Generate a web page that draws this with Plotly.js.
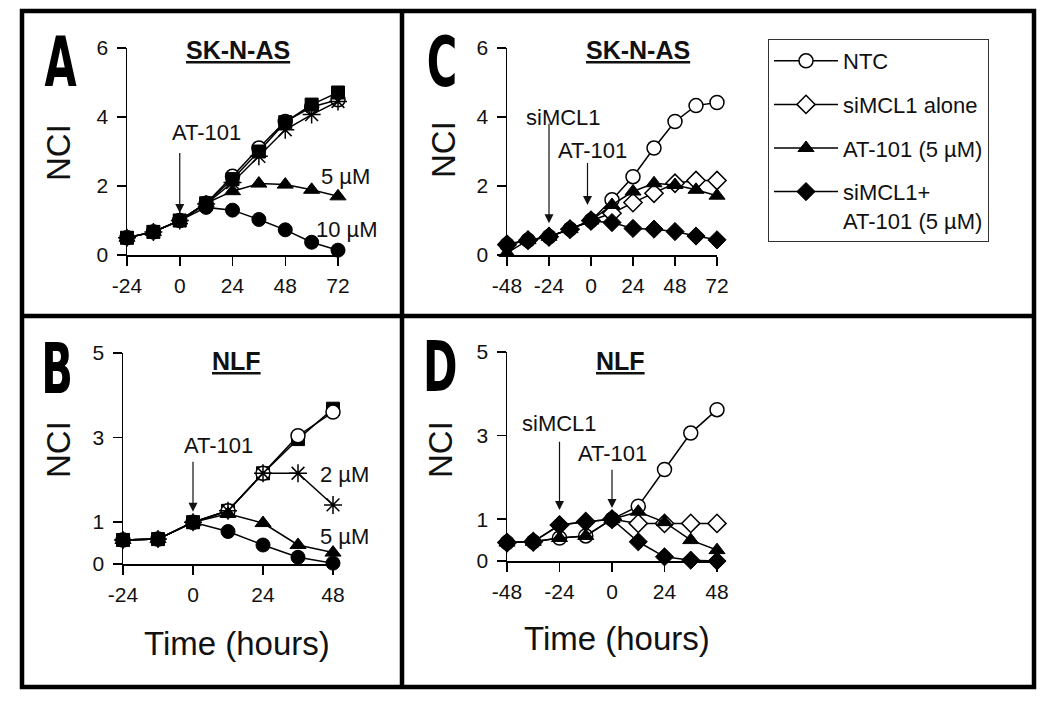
<!DOCTYPE html>
<html>
<head>
<meta charset="utf-8">
<script src="https://cdn.plot.ly/plotly-3.0.1.min.js"></script>
<style>
  html, body { margin: 0; padding: 0; background: #fff; }
  #chart { width: 1050px; height: 709px; }
  .annotation[data-index="0"] .annotation-text,
  .annotation[data-index="1"] .annotation-text,
  .annotation[data-index="2"] .annotation-text,
  .annotation[data-index="3"] .annotation-text {
    transform-box: fill-box; transform-origin: center; transform: scaleX(0.66);
  }
</style>
</head>
<body>
<div id="chart"></div>
<script>
// ---------- Panel A : SK-N-AS, AT-101 doses ----------
const hoursA = [-24, -12, 0, 12, 24, 36, 48, 60, 72];
const A_control = [0.50, 0.67, 1.00, 1.50, 2.28, 3.10, 3.87, 4.29, 4.50];
const A_square  = [0.50, 0.67, 1.00, 1.50, 2.20, 3.00, 3.85, 4.36, 4.71];
const A_star    = [0.50, 0.67, 1.00, 1.48, 2.10, 2.86, 3.63, 4.07, 4.45];
const A_5uM     = [0.50, 0.67, 1.00, 1.50, 1.85, 2.07, 2.04, 1.89, 1.70];
const A_10uM    = [0.50, 0.67, 1.00, 1.38, 1.30, 1.03, 0.73, 0.37, 0.14];
const A_xticks = [-24, 0, 24, 48, 72];
const A_xtickText = ['-24', '0', '24', '48', '72'];
const A_yticks = [0, 2, 4, 6];

// ---------- Panel B : NLF, AT-101 doses ----------
const hoursB = [-24, -12, 0, 12, 24, 36, 48];
const B_control = [0.57, 0.59, 0.99, 1.26, 2.15, 3.04, 3.60];
const B_controlErr = [0, 0, 0, 0, 0, 0, 0.16];
const B_square  = [0.57, 0.59, 0.99, 1.26, 2.15, 2.96, 3.68];
const B_2uM     = [0.57, 0.59, 0.99, 1.26, 2.15, 2.15, 1.40];
const B_5uM     = [0.57, 0.59, 0.99, 1.19, 0.97, 0.45, 0.27];
const B_10uM    = [0.57, 0.59, 0.99, 0.77, 0.45, 0.16, 0.02];
const B_xticks = [-24, 0, 24, 48];
const B_xtickText = ['-24', '0', '24', '48'];
const B_yticks = [0, 1, 3, 5];

// ---------- Panel C : SK-N-AS, siMCL1 +/- AT-101 ----------
const hoursC = [-48, -36, -24, -12, 0, 12, 24, 36, 48, 60, 72];
const C_NTC     = [0.30, 0.43, 0.53, 0.75, 1.00, 1.60, 2.27, 3.10, 3.87, 4.33, 4.42];
const C_siMCL1  = [0.30, 0.43, 0.53, 0.75, 1.00, 1.21, 1.52, 1.79, 2.08, 2.16, 2.16];
const C_AT101   = [0.06, 0.43, 0.53, 0.75, 1.00, 1.45, 1.84, 2.08, 2.03, 1.89, 1.72];
const C_combo   = [0.32, 0.43, 0.53, 0.75, 0.98, 0.94, 0.77, 0.75, 0.68, 0.55, 0.44];
const C_xticks = [-48, -24, 0, 24, 48, 72];
const C_xtickText = ['-48', '-24', '0', '24', '48', '72'];

// ---------- Panel D : NLF, siMCL1 +/- AT-101 ----------
const hoursD = [-48, -36, -24, -12, 0, 12, 24, 36, 48];
const D_NTC     = [0.44, 0.46, 0.55, 0.60, 1.00, 1.31, 2.19, 3.06, 3.62];
const D_siMCL1  = [0.44, 0.46, 0.86, 0.94, 1.00, 0.90, 0.90, 0.90, 0.90];
const D_AT101   = [0.44, 0.46, 0.55, 0.60, 1.00, 1.18, 0.93, 0.50, 0.26];
const D_combo   = [0.44, 0.46, 0.86, 0.94, 1.00, 0.46, 0.10, 0.02, 0.00];
const D_xticks = [-48, -24, 0, 24, 48];
const D_xtickText = ['-48', '-24', '0', '24', '48'];

const legendNames = ['NTC', 'siMCL1 alone', 'AT-101 (5 µM)', 'siMCL1+<br>AT-101 (5 µM)'];

// ---------- styles ----------
const FONT = 'Liberation Sans, Arial, Helvetica, sans-serif';
const LW = 1.5;
const sty = {
  openCircle: {symbol: 'circle', size: 14, color: 'white', line: {color: 'black', width: LW}},
  fillCircle: {symbol: 'circle', size: 14, color: 'black', line: {color: 'black', width: 1}},
  square: {symbol: 'square', size: 13, color: 'black', line: {color: 'black', width: 1}},
  star: {symbol: 'asterisk-open', size: 15, color: 'black', line: {color: 'black', width: LW}},
  tri: {symbol: 'triangle-up', size: 14, color: 'black', line: {color: 'black', width: 1}},
  openDiamond: {symbol: 'diamond', size: 14, color: 'white', line: {color: 'black', width: LW}},
  fillDiamond: {symbol: 'diamond', size: 14, color: 'black', line: {color: 'black', width: 1}}
};

function tr(x, y, marker, xa, ya, extra) {
  return Object.assign({
    type: 'scatter', mode: 'lines+markers', x: x, y: y,
    xaxis: xa, yaxis: ya, marker: marker,
    line: {color: 'black', width: LW},
    cliponaxis: false, showlegend: false, hoverinfo: 'skip'
  }, extra || {});
}

const data = [
  // A
  tr(hoursA, A_control, sty.openCircle, 'x', 'y'),
  tr(hoursA, A_star, sty.star, 'x', 'y'),
  tr(hoursA, A_10uM, sty.fillCircle, 'x', 'y'),
  tr(hoursA, A_5uM, sty.tri, 'x', 'y'),
  tr(hoursA, A_square, sty.square, 'x', 'y'),
  // B
  tr(hoursB, B_square, sty.square, 'x3', 'y3'),
  tr(hoursB, B_control, sty.openCircle, 'x3', 'y3', {
    error_y: {type: 'data', array: B_controlErr, arrayminus: B_controlErr.map(() => 0), symmetric: false,
              color: 'black', thickness: LW, width: 5}
  }),
  tr(hoursB, B_2uM, sty.star, 'x3', 'y3'),
  tr(hoursB, B_5uM, sty.tri, 'x3', 'y3'),
  tr(hoursB, B_10uM, sty.fillCircle, 'x3', 'y3'),
  // C (legend)
  tr(hoursC, C_NTC, sty.openCircle, 'x2', 'y2', {name: legendNames[0], showlegend: true, legendgroup: 'g1'}),
  tr(hoursC, C_siMCL1, sty.openDiamond, 'x2', 'y2', {name: legendNames[1], showlegend: true, legendgroup: 'g2'}),
  tr(hoursC, C_AT101, sty.tri, 'x2', 'y2', {name: legendNames[2], showlegend: true, legendgroup: 'g3'}),
  tr(hoursC, C_combo, sty.fillDiamond, 'x2', 'y2', {name: legendNames[3], showlegend: true, legendgroup: 'g4'}),
  // D
  tr(hoursD, D_NTC, sty.openCircle, 'x4', 'y4'),
  tr(hoursD, D_siMCL1, sty.openDiamond, 'x4', 'y4'),
  tr(hoursD, D_AT101, sty.tri, 'x4', 'y4'),
  tr(hoursD, D_combo, sty.fillDiamond, 'x4', 'y4')
];

const W = 1050, H = 709;
const px = v => v / W;
const py = v => 1 - v / H;

function axis(domain, range, tickvals, ticktext, anchor, isY) {
  const a = {
    domain: domain, range: range, tickvals: tickvals, showline: true,
    linecolor: 'black', linewidth: LW, ticks: 'outside', ticklen: 9,
    tickwidth: LW, tickcolor: 'black', showgrid: false, zeroline: false,
    tickfont: {family: FONT, size: 21, color: '#111'}, fixedrange: true,
    anchor: anchor, ticklabelstandoff: isY ? 4 : 2
  };
  if (ticktext) a.ticktext = ticktext;
  return a;
}

const yA = [py(255), py(48)];
const yB = [py(564), py(353)];
const yD = [py(561), py(352)];

const annotations = [];
function txt(x, y, text, size, opts) {
  annotations.push(Object.assign({
    xref: 'paper', yref: 'paper', x: px(x), y: py(y), text: text, showarrow: false,
    xanchor: 'center', yanchor: 'middle',
    font: {family: FONT, size: size, color: '#111'}
  }, opts || {}));
}
function dtxt(xa, ya, x, y, text, size) {
  annotations.push({xref: xa, yref: ya, x: x, y: y, text: text, showarrow: false,
    xanchor: 'center', yanchor: 'middle', font: {family: FONT, size: size, color: '#111'}});
}
function arrow(xa, ya, x, yTail, yTip) {
  annotations.push({xref: xa, yref: ya, axref: xa, ayref: ya, x: x, y: yTip, ax: x, ay: yTail,
    text: '', showarrow: true, arrowhead: 2, arrowsize: 1.5, arrowwidth: 1.2, arrowcolor: '#111'});
}

// panel letters (indices 0-3)
const LETTER_FONT = {family: 'Liberation Sans Narrow, DejaVu Sans Condensed, Arial Narrow, sans-serif', size: 70, color: '#000', weight: 'bold'};
txt(60, 62, '<b>A</b>', 70, {font: LETTER_FONT});
txt(57, 369, '<b>B</b>', 70, {font: LETTER_FONT});
txt(442, 62, '<b>C</b>', 70, {font: LETTER_FONT});
txt(440, 367, '<b>D</b>', 70, {font: LETTER_FONT});

// titles
txt(238, 50, '<b><u>SK-N-AS</u></b>', 25);
txt(638, 50, '<b><u>SK-N-AS</u></b>', 25);
txt(236, 361, '<b><u>NLF</u></b>', 25);
txt(620, 361, '<b><u>NLF</u></b>', 25);

// axis titles
txt(58, 153, 'NCI', 33, {textangle: -90});
txt(443, 150, 'NCI', 33, {textangle: -90});
txt(58, 450, 'NCI', 33, {textangle: -90});
txt(440, 450, 'NCI', 33, {textangle: -90});
txt(237, 643, 'Time (hours)', 33);
txt(617, 638, 'Time (hours)', 33);

// panel A labels
dtxt('x', 'y', 12, 3.55, 'AT-101', 22);
arrow('x', 'y', 0, 3.0, 1.22);
txt(346, 176, '5 µM', 22);
txt(347, 230, '10 µM', 22);

// panel B labels
dtxt('x3', 'y3', 8.6, 2.82, 'AT-101', 22);
arrow('x3', 'y3', 0, 2.46, 1.24);
txt(344, 475, '2 µM', 22);
txt(344, 536, '5 µM', 22);

// panel C labels
dtxt('x2', 'y2', -16, 4.0, 'siMCL1', 22);
arrow('x2', 'y2', -24, 3.85, 0.92);
dtxt('x2', 'y2', 1, 3.04, 'AT-101', 22);
arrow('x2', 'y2', -2, 2.71, 1.45);

// panel D labels
dtxt('x4', 'y4', -24, 3.3, 'siMCL1', 22);
arrow('x4', 'y4', -24, 2.89, 1.22);
dtxt('x4', 'y4', 0, 2.58, 'AT-101', 22);
arrow('x4', 'y4', 0, 2.22, 1.27);

const BW = 4.5;
const shapes = [
  {type: 'rect', xref: 'paper', yref: 'paper', x0: px(22), x1: px(1034), y0: py(687), y1: py(11),
   line: {color: '#000', width: BW}},
  {type: 'line', xref: 'paper', yref: 'paper', x0: px(402), x1: px(402), y0: py(687), y1: py(11),
   line: {color: '#000', width: BW}},
  {type: 'line', xref: 'paper', yref: 'paper', x0: px(22), x1: px(1034), y0: py(316), y1: py(316),
   line: {color: '#000', width: BW}}
];

const layout = {
  width: W, height: H, margin: {l: 0, r: 0, t: 0, b: 0},
  paper_bgcolor: 'white', plot_bgcolor: 'rgba(0,0,0,0)',
  font: {family: FONT, color: '#111'},
  showlegend: true,
  legend: {
    x: px(768), y: py(39), xanchor: 'left', yanchor: 'top',
    bordercolor: '#333', borderwidth: 1, bgcolor: 'white',
    font: {family: FONT, size: 22, color: '#111'},
    traceorder: 'grouped', tracegroupgap: 12, itemwidth: 64, valign: 'top',
    itemclick: false, itemdoubleclick: false
  },
  xaxis:  axis([px(127), px(338)], [-24, 72], A_xticks, A_xtickText, 'y'),
  yaxis:  axis(yA, [0, 6], A_yticks, null, 'x', true),
  xaxis2: axis([px(507), px(717)], [-48, 72], C_xticks, C_xtickText, 'y2'),
  yaxis2: axis(yA, [0, 6], A_yticks, null, 'x2', true),
  xaxis3: axis([px(123), px(333)], [-24, 48], B_xticks, B_xtickText, 'y3'),
  yaxis3: axis(yB, [0, 5], B_yticks, null, 'x3', true),
  xaxis4: axis([px(507), px(717)], [-48, 48], D_xticks, D_xtickText, 'y4'),
  yaxis4: axis(yD, [0, 5], B_yticks, null, 'x4', true),
  annotations: annotations,
  shapes: shapes
};

Plotly.newPlot('chart', data, layout, {displayModeBar: false, staticPlot: true});
</script>
</body>
</html>
